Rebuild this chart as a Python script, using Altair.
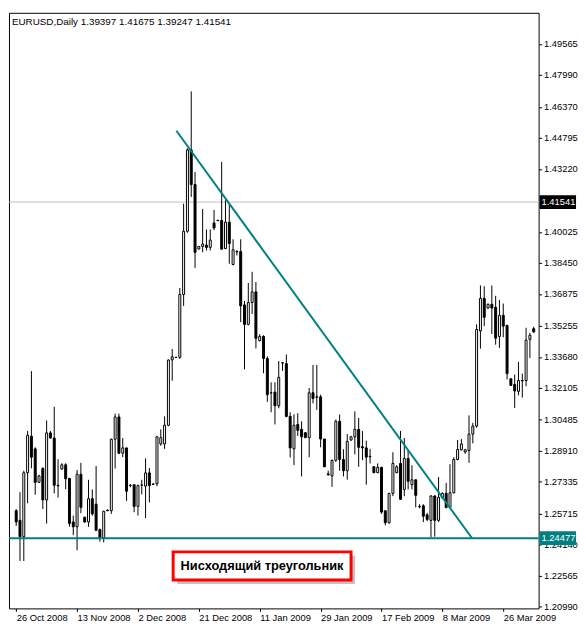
import altair as alt
import pandas as pd

opens = [1.2587,1.2538,1.2455,1.2780,1.2965,1.2901,1.2731,1.2802,1.2642,1.2982,
         1.2956,1.2716,1.2799,1.2820,1.2751,1.2530,1.2506,1.2772,1.2554,1.2530,
         1.2648,1.2620,1.2491,1.2450,1.2590,1.2587,1.2950,1.3063,1.2879,1.2906,
         1.2714,1.2719,1.2609,1.2716,1.2712,1.2779,1.2723,1.2724,1.2926,1.2926,
         1.3021,1.3353,1.3366,1.3366,1.3685,1.4006,1.4419,1.4243,1.3916,1.3929,
         1.3936,1.3924,1.4048,1.4062,1.4061,1.3918,1.4052,1.3837,1.3903,1.3903,
         1.3632,1.3533,1.3644,1.3698,1.3451,1.3472,1.3360,1.3186,1.3189,1.3120,
         1.3338,1.3334,1.3066,1.2901,1.3025,1.3000,1.2983,1.2958,1.3186,1.3165,
         1.3165,1.2951,1.2774,1.2764,1.2843,1.3041,1.2847,1.2790,1.2946,1.2962,
         1.3000,1.2912,1.2906,1.2863,1.2810,1.2780,1.2807,1.2587,1.2526,1.2675,
         1.2780,1.2827,1.2695,1.2852,1.2719,1.2744,1.2609,1.2612,1.2566,1.2538,
         1.2662,1.2538,1.2653,1.2675,1.2604,1.2678,1.2847,1.2896,1.2885,1.2893,
         1.2976,1.3017,1.3500,1.3665,1.3616,1.3635,1.3620,1.3472,1.3579,1.3528,
         1.3257,1.3228,1.3193,1.3248,1.3248,1.3457,1.3511]
highs = [1.2595,1.2681,1.2790,1.2992,1.3296,1.2909,1.2769,1.2807,1.3045,1.2992,
         1.3115,1.2848,1.2828,1.2828,1.2754,1.2562,1.2794,1.2830,1.2556,1.2744,
         1.2695,1.2814,1.2496,1.2587,1.2593,1.2953,1.3080,1.3080,1.2956,1.2906,
         1.2723,1.2719,1.2719,1.2744,1.2853,1.2804,1.2724,1.2967,1.3000,1.3066,
         1.3355,1.3408,1.3368,1.3718,1.4146,1.4427,1.4716,1.4307,1.3931,1.4119,
         1.4015,1.4015,1.4114,1.4063,1.4358,1.4163,1.4146,1.3965,1.3910,1.3965,
         1.3652,1.3743,1.3800,1.3748,1.3483,1.3478,1.3371,1.3239,1.3239,1.3347,
         1.3342,1.3380,1.3087,1.3077,1.3082,1.3041,1.2987,1.3210,1.3327,1.3327,
         1.3176,1.2952,1.2790,1.2846,1.3050,1.3075,1.2899,1.2976,1.2967,1.3091,
         1.3058,1.2992,1.2942,1.2901,1.2814,1.2827,1.2810,1.2587,1.2678,1.2884,
         1.2818,1.2992,1.2956,1.2893,1.2818,1.2744,1.2620,1.2620,1.2576,1.2665,
         1.2665,1.2758,1.2680,1.2728,1.2823,1.2859,1.2946,1.2951,1.2901,1.3071,
         1.3033,1.3533,1.3731,1.3727,1.3639,1.3731,1.3678,1.3657,1.3639,1.3531,
         1.3257,1.3278,1.3343,1.3283,1.3516,1.3490,1.3521]
lows = [1.2510,1.2332,1.2332,1.2625,1.2802,1.2668,1.2728,1.2596,1.2522,1.2953,
        1.2675,1.2654,1.2795,1.2696,1.2506,1.2463,1.2386,1.2574,1.2526,1.2505,
        1.2562,1.2483,1.2430,1.2426,1.2585,1.2571,1.2801,1.2874,1.2859,1.2637,
        1.2706,1.2579,1.2562,1.2670,1.2550,1.2629,1.2719,1.2711,1.2917,1.2901,
        1.3016,1.3247,1.3364,1.3358,1.3627,1.3998,1.4180,1.3820,1.3913,1.3899,
        1.3908,1.3908,1.4012,1.4059,1.3913,1.3915,1.3841,1.3833,1.3883,1.3545,
        1.3305,1.3528,1.3586,1.3411,1.3446,1.3285,1.3140,1.3087,1.3025,1.3107,
        1.3297,1.3061,1.2857,1.2819,1.2967,1.2761,1.2957,1.2859,1.3132,1.3099,
        1.2909,1.2809,1.2764,1.2708,1.2835,1.2790,1.2761,1.2745,1.2942,1.2873,
        1.2810,1.2843,1.2719,1.2827,1.2778,1.2778,1.2571,1.2513,1.2521,1.2661,
        1.2778,1.2643,1.2661,1.2695,1.2695,1.2604,1.2599,1.2529,1.2534,1.2451,
        1.2455,1.2530,1.2650,1.2599,1.2599,1.2675,1.2843,1.2893,1.2876,1.2830,
        1.2929,1.3008,1.3410,1.3524,1.3612,1.3484,1.3430,1.3414,1.3468,1.3253,
        1.3222,1.3109,1.3173,1.3161,1.3219,1.3363,1.3491]
closes = [1.2530,1.2455,1.2780,1.2970,1.2859,1.2731,1.2764,1.2642,1.2982,1.2956,
          1.2716,1.2713,1.2820,1.2749,1.2522,1.2505,1.2772,1.2604,1.2530,1.2648,
          1.2571,1.2488,1.2450,1.2584,1.2587,1.2950,1.3063,1.2879,1.2906,1.2686,
          1.2715,1.2609,1.2714,1.2718,1.2779,1.2715,1.2721,1.2962,1.2958,1.3021,
          1.3352,1.3368,1.3365,1.3685,1.4006,1.4419,1.4243,1.3899,1.3929,1.3941,
          1.3924,1.3961,1.4023,1.4060,1.3915,1.4052,1.3944,1.3912,1.3901,1.3627,
          1.3533,1.3644,1.3698,1.3462,1.3472,1.3360,1.3176,1.3185,1.3120,1.3264,
          1.3337,1.3066,1.2906,1.3021,1.2995,1.2962,1.2958,1.3186,1.3157,1.3163,
          1.2951,1.2810,1.2770,1.2843,1.3041,1.2847,1.2790,1.2939,1.2962,1.3000,
          1.2909,1.2906,1.2859,1.2861,1.2780,1.2807,1.2580,1.2526,1.2675,1.2827,
          1.2810,1.2645,1.2852,1.2736,1.2744,1.2665,1.2607,1.2559,1.2543,1.2662,
          1.2538,1.2655,1.2675,1.2604,1.2678,1.2847,1.2898,1.2926,1.2896,1.2976,
          1.3017,1.3507,1.3665,1.3569,1.3635,1.3616,1.3463,1.3579,1.3524,1.3283,
          1.3223,1.3195,1.3248,1.3246,1.3453,1.3478,1.3494]

date_ticks = [0, 16, 32, 48, 64, 80, 96, 112, 128]
date_labels = ["26 Oct 2008", "13 Nov 2008", "2 Dec 2008", "21 Dec 2008", "11 Jan 2009",
               "29 Jan 2009", "17 Feb 2009", "8 Mar 2009", "26 Mar 2009"]
price_ticks = [1.49565, 1.47990, 1.46370, 1.44795, 1.43220, 1.40025, 1.38450, 1.36875,
               1.35255, 1.33680, 1.32105, 1.30485, 1.28910, 1.27335, 1.25715, 1.24140,
               1.22565, 1.20990]

trend_idx = [42.1, 119.8]
trend_price = [1.4516, 1.2447]
support_price = 1.24477
current_price = 1.41541
title_text = "EURUSD,Daily  1.39397 1.41675 1.39247 1.41541"
note_text = "Нисходящий треугольник"
note_box_idx = [41.25, 88.0]
note_box_price = [1.2235, 1.2378]
note_text_pos = [64.6, 1.2304]

W, H = 538, 605
xdom = [-0.6, 136.0]
ydom = [1.2091, 1.5115]
FONT = "Liberation Sans"
TEAL = "#008080"

df = pd.DataFrame({"idx": list(range(len(opens))), "open": opens, "high": highs,
                   "low": lows, "close": closes})

label_expr = " : ".join(f"datum.value == {t} ? '{l}'" for t, l in zip(date_ticks, date_labels)) + " : ''"

xs = alt.Scale(domain=xdom, nice=False, zero=False)
ys = alt.Scale(domain=ydom, nice=False, zero=False)

x_axis = alt.Axis(values=date_ticks, labelExpr=label_expr, title=None)
y_axis = alt.Axis(values=price_ticks, format=".5f", orient="right", title=None)

base = alt.Chart(df)

wicks = base.mark_rule(color="black", strokeWidth=1, clip=True).encode(
    x=alt.X("idx:Q", scale=xs, axis=x_axis),
    y=alt.Y("low:Q", scale=ys, axis=y_axis),
    y2="high:Q",
)
bodies = base.mark_bar(size=2, stroke="black", strokeWidth=1, clip=True).encode(
    x=alt.X("idx:Q", scale=xs, axis=x_axis),
    y=alt.Y("open:Q", scale=ys, axis=y_axis),
    y2="close:Q",
    fill=alt.condition("datum.close >= datum.open", alt.value("white"), alt.value("black")),
)

cur_df = pd.DataFrame({"price": [current_price]})
sup_df = pd.DataFrame({"price": [support_price]})
cur_line = alt.Chart(cur_df).mark_rule(color="#c0c0c0", strokeWidth=1).encode(
    y=alt.Y("price:Q", scale=ys, axis=y_axis))
sup_line = alt.Chart(sup_df).mark_rule(color=TEAL, strokeWidth=2).encode(
    y=alt.Y("price:Q", scale=ys, axis=y_axis))

trend_df = pd.DataFrame({"idx": trend_idx, "price": trend_price})
trend = alt.Chart(trend_df).mark_line(color=TEAL, strokeWidth=2).encode(
    x=alt.X("idx:Q", scale=xs, axis=x_axis), y=alt.Y("price:Q", scale=ys, axis=y_axis))

box_df = pd.DataFrame({"x1": [note_box_idx[0]], "x2": [note_box_idx[1]],
                       "y1": [note_box_price[0]], "y2": [note_box_price[1]]})
shadow = alt.Chart(box_df).mark_rect(fill="#9a9a9a", opacity=0.6, xOffset=4, x2Offset=4,
                                     yOffset=4, y2Offset=4).encode(
    x=alt.X("x1:Q", scale=xs, axis=x_axis), x2="x2:Q",
    y=alt.Y("y1:Q", scale=ys, axis=y_axis), y2="y2:Q")
box = alt.Chart(box_df).mark_rect(fill="white", stroke="#ff0000", strokeWidth=3).encode(
    x=alt.X("x1:Q", scale=xs, axis=x_axis), x2="x2:Q",
    y=alt.Y("y1:Q", scale=ys, axis=y_axis), y2="y2:Q")
note_df = pd.DataFrame({"idx": [note_text_pos[0]], "price": [note_text_pos[1]], "t": [note_text]})
note = alt.Chart(note_df).mark_text(font=FONT, fontSize=13, fontWeight="bold", color="black",
                                    align="center", baseline="middle").encode(
    x=alt.X("idx:Q", scale=xs, axis=x_axis), y=alt.Y("price:Q", scale=ys, axis=y_axis),
    text="t:N")

title = alt.Chart(pd.DataFrame({"t": [title_text]})).mark_text(
    font=FONT, fontSize=10, color="black", align="left", baseline="middle").encode(
    x=alt.value(3), y=alt.value(9), text="t:N")

ppu = (ydom[1] - ydom[0]) / H
tag_df = pd.DataFrame({"price": [current_price, support_price],
                       "label": [f"{current_price:.5f}", f"{support_price:.5f}"],
                       "bg": ["black", TEAL]})
tag_df["lo"] = tag_df["price"] - 7 * ppu
tag_df["hi"] = tag_df["price"] + 7 * ppu
tags = alt.Chart(tag_df).mark_rect().encode(
    x=alt.value(W + 1), x2=alt.value(W + 38),
    y=alt.Y("lo:Q", scale=ys, axis=y_axis), y2="hi:Q",
    fill=alt.Fill("bg:N", scale=None, legend=None))
tag_text = alt.Chart(tag_df).mark_text(font=FONT, fontSize=9.5, color="white", align="left",
                                       baseline="middle").encode(
    x=alt.value(W + 3), y=alt.Y("price:Q", scale=ys, axis=y_axis), text="label:N")

chart = alt.layer(cur_line, wicks, bodies, sup_line, trend, shadow, box, note, title,
                  tags, tag_text).properties(
    width=W, height=H, padding={"left": 0, "top": 0, "right": 0, "bottom": 0},
    background="white",
).configure_view(stroke="black", strokeWidth=1).configure_axis(
    grid=False, domain=False, tickSize=3, tickColor="black", labelFont=FONT,
    labelFontSize=9.5, labelColor="black", labelOverlap=False, labelBound=False,
    labelFlush=False,
).configure_axisX(labelAlign="left", labelBaseline="top", labelPadding=1
).configure_axisY(labelPadding=2)

chart.save("out.html", embed_options={"renderer": "svg", "actions": False})
